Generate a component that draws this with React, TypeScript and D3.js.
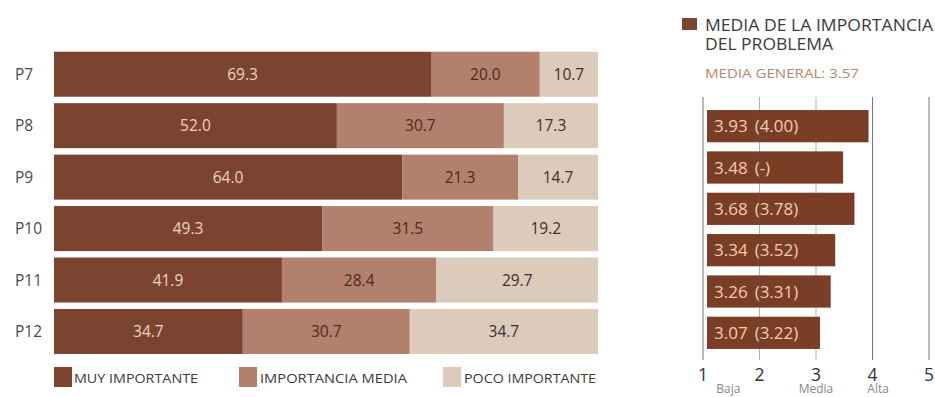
import React from 'react';
import * as d3 from 'd3';

const categories = ['P7', 'P8', 'P9', 'P10', 'P11', 'P12'];
const muyImportante = [69.3, 52.0, 64.0, 49.3, 41.9, 34.7];
const importanciaMedia = [20.0, 30.7, 21.3, 31.5, 28.4, 30.7];
const pocoImportante = [10.7, 17.3, 14.7, 19.2, 29.7, 34.7];
const seriesNames = ['MUY IMPORTANTE', 'IMPORTANCIA MEDIA', 'POCO IMPORTANTE'];

const meanValues = [3.93, 3.48, 3.68, 3.34, 3.26, 3.07];
const prevValues = ['4.00', '-', '3.78', '3.52', '3.31', '3.22'];
const meanTicks = [1, 2, 3, 4, 5];
const scaleLabels = ['Baja', 'Media', 'Alta'];
const scaleLabelPos = [1.45, 3, 4.1];
const mediaGeneral = '3.57';

const COLORS = ['#7b4430', '#b3806d', '#dccabb'];
const TEXT_COLORS = ['#efd3c0', '#4a2a1c', '#3a302c'];
const FONT = '"Open Sans", "Noto Sans", sans-serif';

export default function App() {
  const W = 935, H = 397;
  const x = d3.scaleLinear().domain([0, 100]).range([54, 598]);
  const y = d3.scaleBand<string>().domain(categories).range([48.5, 357.2]).paddingInner(0.125).paddingOuter(0.0625);

  const rows = categories.map((c, i) => ({ cat: c, v: [muyImportante[i], importanciaMedia[i], pocoImportante[i]] }));
  const stack = d3.stack<any>().keys(['0', '1', '2']).value((d, k) => d.v[+k]);
  const stacked = stack(rows as any);

  const xm = d3.scaleLinear().domain([1, 5]).range([703, 929]);
  const ym = d3.scaleBand<string>().domain(categories).range([105.5, 353.5]).paddingInner(0.22).paddingOuter(0.11);

  const legendX = [54, 239, 443];
  const legendTextX = [74, 260, 464];
  const legendTextW = [124, 147, 132];

  return (
    <svg width={W} height={H} style={{ position: 'absolute', left: 0, top: 0, background: '#fff' }} fontFamily={FONT}>
      {stacked.map((layer, si) => (
        <g key={si}>
          {layer.map((d, i) => {
            const x0 = x(d[0]);
            const x1 = Math.min(x(d[1]), x(100));
            const yy = y(categories[i])!;
            return (
              <g key={i}>
                <rect x={x0} y={yy} width={x1 - x0} height={y.bandwidth()} fill={COLORS[si]} />
                <text x={(x0 + x1) / 2} y={yy + y.bandwidth() / 2 + 5.5} textAnchor="middle" fontSize={15.5} fill={TEXT_COLORS[si]}>
                  {rows[i].v[si].toFixed(1)}
                </text>
              </g>
            );
          })}
        </g>
      ))}
      {categories.map((c) => (
        <text key={c} x={15} y={y(c)! + y.bandwidth() / 2 + 5.5} fontSize={15.5} fill="#4a4a4a">{c}</text>
      ))}
      {seriesNames.map((n, i) => (
        <g key={n}>
          <rect x={legendX[i]} y={367} width={18} height={20} fill={COLORS[i]} />
          <text x={legendTextX[i]} y={383} fontSize={13.5} fill="#3a3a3a" textLength={legendTextW[i]} lengthAdjust="spacingAndGlyphs">{n}</text>
        </g>
      ))}

      <rect x={682} y={18} width={15} height={12} fill="#7b4430" />
      <text x={705} y={30.5} fontSize={16} fill="#3a3a3a" textLength={228} lengthAdjust="spacingAndGlyphs">MEDIA DE LA IMPORTANCIA</text>
      <text x={705} y={50} fontSize={16} fill="#3a3a3a" textLength={128} lengthAdjust="spacingAndGlyphs">DEL PROBLEMA</text>
      <text x={705} y={78} fontSize={13.5} fill="#b5866c" textLength={154} lengthAdjust="spacingAndGlyphs">{`MEDIA GENERAL: ${mediaGeneral}`}</text>

      {meanValues.map((v, i) => {
        const yy = ym(categories[i])!;
        const x0 = xm(1) + 4;
        return (
          <g key={i}>
            <rect x={x0} y={yy} width={xm(v) - x0} height={ym.bandwidth()} fill="#7a3d26" />
            <text x={x0 + 7} y={yy + ym.bandwidth() / 2 + 6} fontSize={17} fill="#f0cdb4">
              {v.toFixed(2)}
              <tspan dx={7}>{`(${prevValues[i]})`}</tspan>
            </text>
          </g>
        );
      })}
      {meanTicks.map((t) => (
        <line key={t} x1={xm(t)} x2={xm(t)} y1={97} y2={360} stroke="#555" strokeWidth={1} opacity={t === 2 || t === 3 ? 0.45 : 0.8} />
      ))}
      {meanTicks.map((t) => (
        <text key={t} x={xm(t)} y={381} textAnchor="middle" fontSize={17.5} fill="#333">{t}</text>
      ))}
      {scaleLabels.map((s, i) => (
        <text key={s} x={xm(scaleLabelPos[i])} y={393} textAnchor="middle" fontSize={12} fill="#888">{s}</text>
      ))}
    </svg>
  );
}
